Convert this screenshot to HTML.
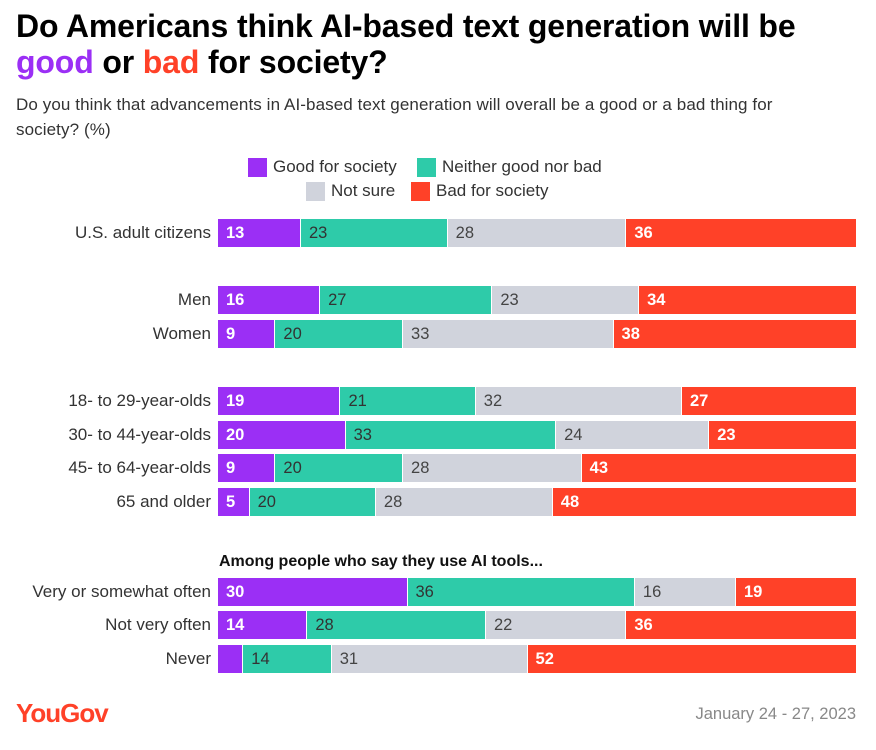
<!DOCTYPE html>
<html><head><meta charset="utf-8"><style>
body{margin:0;width:876px;height:750px;background:#fff;font-family:"Liberation Sans",sans-serif;position:relative;overflow:hidden;color:#222}
.t{position:absolute;left:16px;top:8px;font-size:32px;font-weight:bold;line-height:36px;color:#000;letter-spacing:-0.15px}
.s{position:absolute;left:16px;top:92px;font-size:17px;line-height:25px;color:#333;white-space:nowrap;letter-spacing:0.1px}
.lg{position:absolute;font-size:17px;color:#333;display:flex;align-items:center}
.lg i{display:inline-block;width:19px;height:19px;margin-right:6px}
</style></head><body>
<div class="t">Do Americans think AI-based text generation will be<br><span style="color:#9b2ff5">good</span> or <span style="color:#ff4128">bad</span> for society?</div>
<div class="s">Do you think that advancements in AI-based text generation will overall be a good or a bad thing for<br>society? (%)</div>
<div class="lg" style="left:248px;top:157px"><i style="background:#9b2ff5"></i>Good for society</div>
<div class="lg" style="left:417px;top:157px"><i style="background:#2ecba9"></i>Neither good nor bad</div>
<div class="lg" style="left:306px;top:181px"><i style="background:#d0d3dc"></i>Not sure</div>
<div class="lg" style="left:411px;top:181px"><i style="background:#ff4128"></i>Bad for society</div>
<div style="position:absolute;left:219px;top:553px;font-size:16px;font-weight:bold;color:#111">Among people who say they use AI tools...</div>
<div style="position:absolute;left:16px;top:698px;font-size:26px;font-weight:bold;color:#ff4128;letter-spacing:-1px">YouGov</div>
<div style="position:absolute;right:20px;top:705px;font-size:16.5px;color:#888">January 24 - 27, 2023</div>
<div id="chart"></div>
<script>
const categories=["U.S. adult citizens","Men","Women","18- to 29-year-olds","30- to 44-year-olds","45- to 64-year-olds","65 and older","Very or somewhat often","Not very often","Never"];
const good=[13,16,9,19,20,9,5,30,14,4];
const neither=[23,27,20,21,33,20,20,36,28,14];
const notSure=[28,23,33,32,24,28,28,16,22,31];
const bad=[36,34,38,27,23,43,48,19,36,52];
const rowCenters=[233,300,334,401,435,468,502,592,625,659];
const x0=218,x1=856,h=28;
const colors=["#9b2ff5","#2ecba9","#d0d3dc","#ff4128"];
const txt=["#fff","#333","#444","#fff"];
const series=[good,neither,notSure,bad];
const names=["good","neither","not-sure","bad"];
const c=document.getElementById('chart');
categories.forEach((cat,i)=>{
  const yc=rowCenters[i];
  const l=document.createElement('div');
  
  
  l.style.cssText=`position:absolute;right:${876-211}px;top:${yc-10}px;font-size:17px;color:#333;white-space:nowrap;line-height:20px`;
  l.textContent=cat;c.appendChild(l);
  const tot=series.reduce((s,a)=>s+a[i],0);
  let acc=0;
  series.forEach((a,k)=>{
    const xa=x0+(x1-x0)*acc/tot;acc+=a[i];const xb=x0+(x1-x0)*acc/tot;
    const b=document.createElement('div');
    
    
    b.style.cssText=`position:absolute;left:${xa}px;width:${xb-xa-(k<3?1:0)}px;top:${yc-h/2}px;height:${h}px;background:${colors[k]};color:${txt[k]};font-size:16.5px;line-height:${h}px;box-sizing:border-box;padding-left:8px;${k==0||k==3?'font-weight:bold;':''}overflow:hidden`;
    b.textContent=a[i]>=5?a[i]:'';
    c.appendChild(b);
  });
});
</script>
</body></html>
